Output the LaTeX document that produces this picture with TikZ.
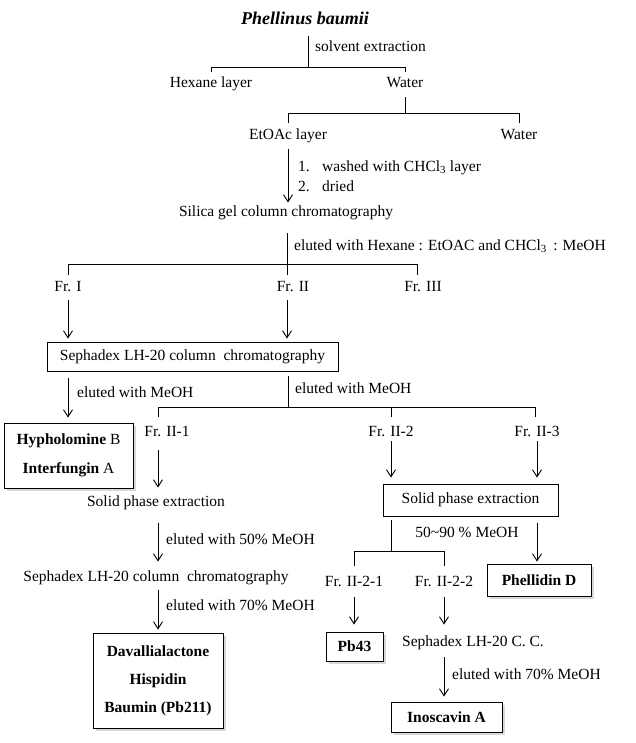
\documentclass[tikz,border=0pt]{standalone}
\usepackage{fontspec}
\setmainfont{Liberation Serif}
\usetikzlibrary{arrows.meta,shadows}
\begin{document}
\begin{tikzpicture}[x=1pt,y=-1pt,
  every node/.style={font=\fontsize{15.5}{18}\selectfont},
  txt/.style={inner sep=0pt, text height=11pt, text depth=3.5pt},
  lbl/.style={txt, anchor=west},
  box/.style={draw, line width=0.9pt, inner sep=0pt, align=center, fill=white},
  res/.style={box, drop shadow={opacity=0.3, shadow xshift=2.5pt, shadow yshift=-2.5pt},
    font=\fontsize{15.5}{28}\selectfont\bfseries},
  ln/.style={line width=0.9pt},
  arr/.style={ln, -{Straight Barb[length=7pt,width=9pt]}},
]
\fill[white] (0,0) rectangle (635,743);
\useasboundingbox (0,0) rectangle (635,743);

% top
\node[font=\fontsize{18}{20}\selectfont\bfseries\itshape, inner sep=0pt, anchor=base] (title) at (305,25) {Phellinus baumii};
\coordinate (j1) at (308,67);
\node[lbl] (solv) at (315,48) {solvent extraction};
\node[txt] (hex) at (211,84) {Hexane layer};
\node[txt] (water1) at (405,84) {Water};
\draw[ln, shorten <=11pt] (title.south -| j1) -- (j1);
\draw[ln, shorten <=4.5pt, shorten >=4.5pt] (hex.north) -- (hex.north |- j1) -- (water1.north |- j1) -- (water1.north);

\coordinate (j2) at (405,113);
\draw[ln, shorten <=6pt] (water1.south) -- (j2);
\node[txt] (etoac) at (288,136) {EtOAc layer};
\node[txt] (water2) at (519,136) {Water};
\draw[ln, shorten <=5.5pt, shorten >=5.5pt] (etoac.north) -- (etoac.north |- j2) -- (water2.north |- j2) -- (water2.north);

\node[txt] (silica) at (286,213) {Silica gel column chromatography};
\draw[arr, shorten <=6pt, shorten >=3pt] (etoac.south) -- (etoac.south |- silica.north);
\node[lbl] (n1) at (298,168) {1.};
\node[lbl] (w1) at (322,168) {washed with CHCl\textsubscript{3} layer};
\node[lbl] (n2) at (298,188) {2.};
\node[lbl] (w2) at (322,188) {dried};

\coordinate (j3) at (287,264);
\draw[ln, shorten <=13pt] (silica.south -| j3) -- (j3);
\node[lbl] (elhex) at (294,247) {eluted with Hexane : EtOAC and CHCl\textsubscript{3}\, : MeOH};

\node[txt] (fr1) at (68,288) {Fr. I};
\node[txt] (fr2) at (293,288) {Fr. II};
\node[txt] (fr3) at (423,288) {Fr. III};
\coordinate (c3) at (417,264);
\draw[ln, shorten <=6pt, shorten >=6pt] (fr1.north) -- (fr1.north |- j3) -- (c3) -- (c3 |- fr3.north);
\draw[ln, shorten >=6pt] (j3) -- (j3 |- fr2.north);

% Sephadex box
\node[box, minimum width=291pt, minimum height=29pt] (sephbox) at (192.5,356.5) {Sephadex LH-20 column~ chromatography};
\draw[arr, shorten <=5pt, shorten >=3pt] (fr1.south) -- (fr1.south |- sephbox.north);
\draw[arr, shorten <=5pt, shorten >=3pt] (fr2.south -| j3) -- (j3 |- sephbox.north);

\node[res, minimum width=129pt, minimum height=65pt, font=\fontsize{15.5}{29}\selectfont] (hyph) at (68.5,455.5) {\textbf{Hypholomine} B\\\textbf{Interfungin} A};
\draw[arr, shorten <=7pt, shorten >=5pt] (sephbox.south -| fr1) -- (hyph.north -| fr1);
\node[lbl] (elm1) at (77,394) {eluted with MeOH};

\coordinate (j4) at (288,407);
\draw[ln, shorten <=5pt] (sephbox.south -| j4) -- (j4);
\node[lbl] (elm2) at (295,390) {eluted with MeOH};

\node[txt] (fr21) at (167,433) {Fr. II-1};
\node[txt] (fr22) at (391,433) {Fr. II-2};
\node[txt] (fr23) at (537,433) {Fr. II-3};
\coordinate (c21) at (158,407);
\coordinate (c23) at (535,407);
\draw[ln, shorten <=8.5pt, shorten >=8.5pt] (c21 |- fr21.north) -- (c21) -- (c23) -- (c23 |- fr23.north);
\draw[ln, shorten >=8.5pt] (fr22.north |- j4) -- (fr22.north);

% left chain
\node[txt] (solid1) at (156,503) {Solid phase extraction};
\draw[arr, shorten <=10pt, shorten >=8pt] (c21 |- fr21.south) -- (c21 |- solid1.north);
\node[lbl] (el50) at (166,541) {eluted with 50\% MeOH};
\node[txt] (seph1) at (156,578) {Sephadex LH-20 column~ chromatography};
\draw[arr, shorten <=13pt, shorten >=9pt] (c21 |- solid1.south) -- (c21 |- seph1.north);
\node[lbl] (el70a) at (166,607) {eluted with 70\% MeOH};
\node[res, minimum width=130pt, minimum height=95pt] (dav) at (158,680.5) {Davallialactone\\Hispidin\\Baumin (Pb211)};
\draw[arr, shorten <=5pt, shorten >=3pt] (c21 |- seph1.south) -- (c21 |- dav.north);

% right chain
\node[box, minimum width=175pt, minimum height=32pt] (spebox) at (470.5,500) {Solid phase extraction};
\draw[arr, shorten <=1pt, shorten >=6pt] (fr22.south) -- (fr22.south |- spebox.north);
\draw[arr, shorten <=1pt, shorten >=6pt] (fr23.south) -- (fr23.south |- spebox.north);

\coordinate (j5) at (391,551);
\draw[ln, shorten <=4pt] (spebox.south -| j5) -- (j5);
\node[txt] (el5090) at (467,534) {50\textasciitilde 90 \% MeOH};

\node[txt] (fr221) at (354,583) {Fr. II-2-1};
\node[txt] (fr222) at (444,583) {Fr. II-2-2};
\draw[ln, shorten <=9.5pt, shorten >=9.5pt] (fr221.north) -- (fr221.north |- j5) -- (fr222.north |- j5) -- (fr222.north);

\node[res, minimum width=104pt, minimum height=32pt] (phel) at (539,580) {Phellidin D};
\draw[arr, shorten <=7pt, shorten >=2pt] (spebox.south -| fr23) -- (phel.north -| fr23);

\node[res, minimum width=57pt, minimum height=29pt] (pb43) at (354.5,646.5) {Pb43};
\draw[arr, shorten <=7pt, shorten >=7pt] (fr221.south) -- (fr221.south |- pb43.north);

\node[txt] (seph2) at (473,643) {Sephadex LH-20 C. C.};
\draw[arr, shorten <=7pt, shorten >=11pt] (fr222.south) -- (fr222.south |- seph2.north);
\node[lbl] (el70b) at (452,676) {eluted with 70\% MeOH};
\node[res, minimum width=111pt, minimum height=30pt] (ino) at (446.5,717) {Inoscavin A};
\draw[arr, shorten <=7pt, shorten >=5pt] (seph2.south -| fr222) -- (ino.north -| fr222);
\end{tikzpicture}
\end{document}
